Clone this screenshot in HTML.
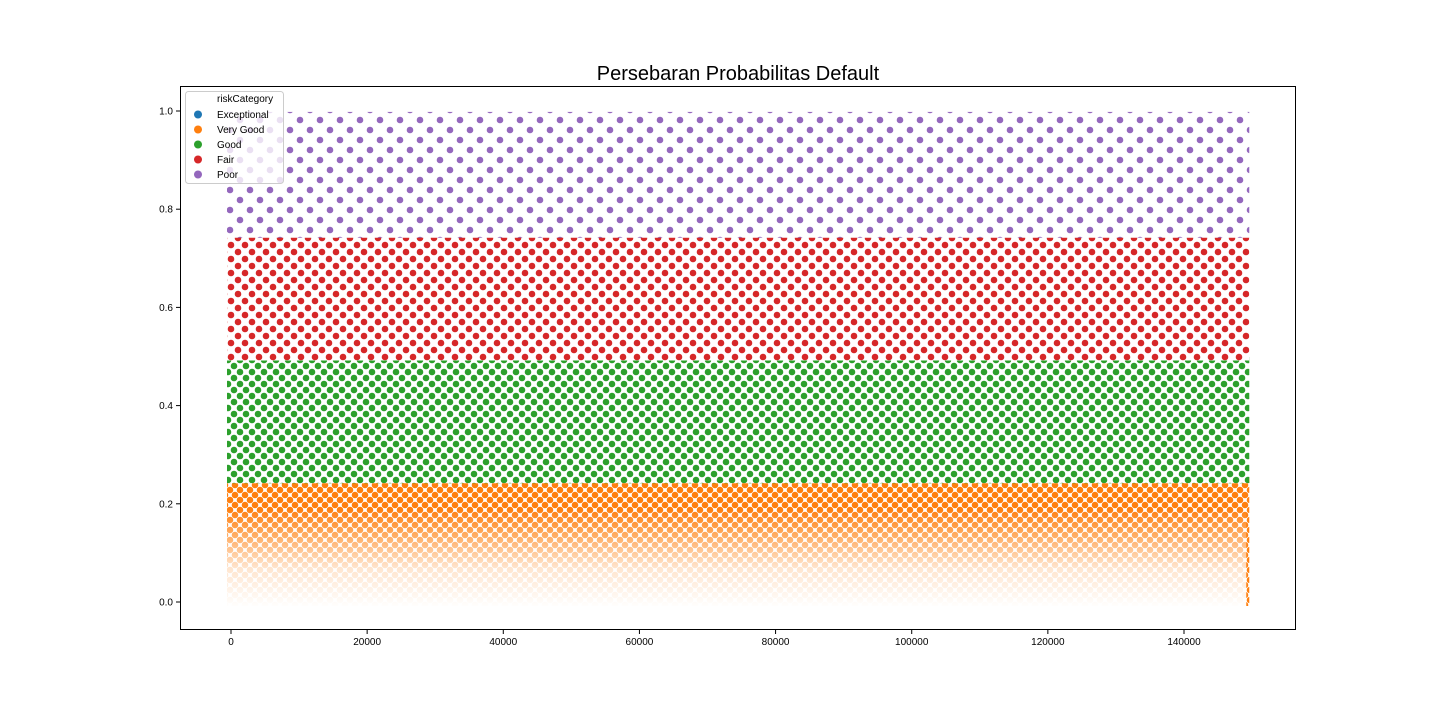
<!DOCTYPE html>
<html><head><meta charset="utf-8"><style>
html,body{margin:0;padding:0;background:#fff;width:1440px;height:720px;overflow:hidden}
svg text{font-family:"Liberation Sans","DejaVu Sans",sans-serif;fill:#000}
</style></head><body>
<svg id="chart" width="1440" height="720" xmlns="http://www.w3.org/2000/svg">
<defs>
<linearGradient id="fadeGrad" x1="0" y1="0" x2="0" y2="1">
<stop offset="0" stop-color="#fff" stop-opacity="0"/>
<stop offset="0.6" stop-color="#fff" stop-opacity="0.8"/>
<stop offset="1" stop-color="#fff" stop-opacity="1"/>
</linearGradient>
</defs>
<text x="738" y="80" font-size="20" text-anchor="middle">Persebaran Probabilitas Default</text>
<g id="plot"></g>
<rect x="180.5" y="86.5" width="1115" height="543" fill="none" stroke="#000" stroke-width="1"/>
<g id="axes"></g>
<g id="legend"></g>
</svg>
<script>
const categories = ["Exceptional","Very Good","Good","Fair","Poor"];
const colors = ["#1f77b4","#ff7f0e","#2ca02c","#d62728","#9467bd"];
const bandLow = [0, 0, 0.25, 0.5, 0.75];
const bandHigh = [0, 0.25, 0.5, 0.75, 0.99];
const xMaxData = 149000;
const spacing = [0, 5, 6, 7, 10];
const xTicks = [0,20000,40000,60000,80000,100000,120000,140000];
const yTicks = [0.0,0.2,0.4,0.6,0.8,1.0];

const NS="http://www.w3.org/2000/svg";
const X = v => 231 + v*(953/140000);
const Y = v => 602 - v*491;
function mk(t,a,p){const e=document.createElementNS(NS,t);for(const k in a)e.setAttribute(k,a[k]);p.appendChild(e);return e;}
const svg=document.getElementById('chart'), defs=svg.querySelector('defs');
const plot=document.getElementById('plot'), axes=document.getElementById('axes'), leg=document.getElementById('legend');

categories.forEach((c,i)=>{
  if(bandHigh[i]<=bandLow[i])return;
  const s=spacing[i];
  const pat=mk('pattern',{id:'pat'+i,patternUnits:'userSpaceOnUse',width:s*2,height:s*2},defs);
  mk('rect',{width:s*2,height:s*2,fill:'#fff'},pat);
  [[0,0],[s,s],[s*2,0],[0,s*2],[s*2,s*2]].forEach(p=>mk('circle',{cx:p[0],cy:p[1],r:3.6,fill:colors[i],stroke:'#fff','stroke-width':0.6},pat));
  const band=mk('rect',{x:X(0)-4,y:Y(bandHigh[i])-4,width:X(xMaxData)-X(0)+8,height:Y(bandLow[i])-Y(bandHigh[i])+8,fill:'url(#pat'+i+')'},plot);
  
  
  if(c==="Very Good"){
    const fade=mk('rect',{x:X(0)-5,y:Y(0.19),width:X(xMaxData)-X(0)+6,height:Y(0)-Y(0.19)+6,fill:'url(#fadeGrad)'},plot);
    
    
  }
});

xTicks.forEach(v=>{
  const g=mk('g',{},axes);
  
  
  mk('line',{x1:X(v),x2:X(v),y1:630,y2:634,stroke:'#000'},g);
  const t=mk('text',{x:X(v),y:645,'font-size':10,'text-anchor':'middle'},g);t.textContent=v;
});
yTicks.forEach(v=>{
  const g=mk('g',{},axes);
  
  
  mk('line',{x1:176,x2:180,y1:Y(v),y2:Y(v),stroke:'#000'},g);
  const t=mk('text',{x:173,y:Y(v)+3.5,'font-size':10,'text-anchor':'end'},g);t.textContent=v.toFixed(1);
});

const box=mk('rect',{x:185.5,y:91.5,width:98,height:92,rx:3,fill:'#fff','fill-opacity':0.8,stroke:'#ccc'},leg);


const ttl=mk('text',{x:217,y:102,'font-size':10},leg);ttl.textContent='riskCategory';


categories.forEach((c,i)=>{
  const g=mk('g',{},leg);
  
  
  const y=118+i*15;
  mk('circle',{cx:198,cy:y-3.5,r:4,fill:colors[i]},g);
  const t=mk('text',{x:217,y:y,'font-size':10},g);t.textContent=c;
});
</script>
</body></html>
